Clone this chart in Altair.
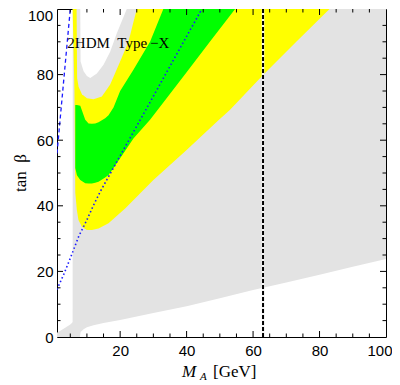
import altair as alt
import pandas as pd

# ---- data ----
gray_x  = [1.0, 3.0, 5.0, 5.5, 5.7, 5.75, 7.9, 8.1, 9.0, 10.0, 12.0, 15.0, 20.0, 30.0, 40.0, 50.0, 60.0, 70.0, 80.0, 90.0, 100.0]
gray_lo = [0, 0, 0, 0, 0, 0, 0, 1.5, 2.4, 3.0, 3.6, 4.3, 5.2, 7.3, 9.4, 11.8, 14.3, 16.6, 19.0, 21.4, 23.8]
gray_hi = [1.3, 2.5, 3.8, 4.3, 4.6, 100, 100, 100, 100, 100, 100, 100, 100, 100, 100, 100, 100, 100, 100, 100, 100]

yellow_x  = [5.7, 6.25, 6.5, 6.97, 7.46, 8.48, 10.0, 11.5, 13.5, 16.5, 21.5, 30.0, 40.0, 49.5, 53.0, 63.0, 73.0, 83.0]
yellow_lo = [100, 75, 44, 38.7, 35.7, 33.6, 32.6, 32.6, 33.1, 34.7, 39.2, 47.9, 57.0, 66.0, 69.2, 79.9, 90.0, 100]

green_x  = [6.5, 7.0, 8.0, 9.5, 10.5, 11.5, 12.5, 13.5, 15.5, 16.5, 18.0, 20.0, 24.0, 29.0, 33.0, 40.0, 47.0, 54.6]
green_lo = [51.5, 49.3, 47.9, 46.9, 46.8, 46.8, 47.0, 47.3, 48.6, 49.4, 51.5, 54.5, 60.5, 66.2, 71.5, 80.7, 90.0, 100]
green_hi = [70.7, 70.7, 70.5, 66.2, 65.1, 65.0, 65.1, 65.5, 66.7, 67.6, 70.0, 75.0, 81.5, 90.0, 100, 100, 100, 100]

igray_x  = [6.9, 7.05, 7.5, 8.5, 10.0, 12.0, 14.5, 17.0, 20.0, 22.5, 25.0]
igray_lo = [100, 79, 76.3, 74.0, 72.8, 72.5, 73.3, 77.0, 84.0, 90.0, 100]

white_x  = [8.0, 8.1, 9.0, 10.0, 11.0, 13.0, 15.0, 17.0, 19.0, 22.0]
white_lo = [100, 84, 81, 79.6, 79.0, 80.3, 83.0, 87.0, 92.6, 100]

dotted_x = [1, 2.95, 5, 7.5, 10, 12, 14, 18, 23.5, 30, 37, 44.6]
dotted_y = [14.5, 18.9, 24, 30.6, 35.7, 40.2, 44.3, 51.6, 61.6, 73.4, 86.2, 100]

dashed_x = [1, 5]
dashed_y = [56, 100]

vline_x = [63]

x_labels = [20, 40, 60, 80]
x_end_label = [100]
y_labels = [0, 20, 40, 60, 80]
y_top_label = [100]
x_major = [20, 40, 60, 80]
x_minor = [5, 10, 15, 25, 30, 35, 45, 50, 55, 65, 70, 75, 85, 90, 95]
y_major = [20, 40, 60, 80]
y_minor = [5, 10, 15, 25, 30, 35, 45, 50, 55, 65, 70, 75, 85, 90, 95]

label_text = "2HDM\u2002Type\u2009\u2212X"
label_pos = [4.1, 88]

# ---- chart ----
W, H = 329, 328
xs = alt.Scale(domain=[1, 100], nice=False, zero=False)
ys = alt.Scale(domain=[0, 100], nice=False, zero=False)

GRAY = "#e3e3e3"
YELLOW = "#ffff00"
GREEN = "#00ff00"
FONT = "Liberation Sans"

AX = alt.Axis(values=x_labels, title=None, ticks=False, tickSize=0, domain=False, grid=False,
              labelFont=FONT, labelFontSize=15, labelColor="black", labelPadding=6,
              labelFlush=False, labelOverlap=False)
AY = alt.Axis(values=y_labels, title=None, ticks=False, tickSize=0, domain=False, grid=False,
              labelFont=FONT, labelFontSize=15, labelColor="black", labelPadding=4,
              labelFlush=False, labelOverlap=False)


def X(f):
    return alt.X(f, type="quantitative", scale=xs, axis=AX)


def Y(f):
    return alt.Y(f, type="quantitative", scale=ys, axis=AY)


gray = alt.Chart(pd.DataFrame({"x": gray_x, "lo": gray_lo, "hi": gray_hi})).mark_area(
    color=GRAY, clip=True, opacity=1).encode(x=X("x"), y=Y("lo"), y2="hi:Q")

yellow = alt.Chart(pd.DataFrame({"x": yellow_x, "lo": yellow_lo})).mark_area(
    color=YELLOW, clip=True, opacity=1).encode(x=X("x"), y=Y("lo"), y2=alt.datum(100))

green = alt.Chart(pd.DataFrame({"x": green_x, "lo": green_lo, "hi": green_hi})).mark_area(
    color=GREEN, clip=True, opacity=1).encode(x=X("x"), y=Y("lo"), y2="hi:Q")

igray = alt.Chart(pd.DataFrame({"x": igray_x, "lo": igray_lo})).mark_area(
    color=GRAY, clip=True, opacity=1).encode(x=X("x"), y=Y("lo"), y2=alt.datum(100))

white = alt.Chart(pd.DataFrame({"x": white_x, "lo": white_lo})).mark_area(
    color="white", clip=True, opacity=1).encode(x=X("x"), y=Y("lo"), y2=alt.datum(100))

dotted = alt.Chart(pd.DataFrame({"x": dotted_x, "y": dotted_y})).mark_line(
    color="#1a1aff", strokeDash=[1.5, 2.5], strokeWidth=1.6, clip=True).encode(x=X("x"), y=Y("y"))

dashed = alt.Chart(pd.DataFrame({"x": dashed_x, "y": dashed_y})).mark_line(
    color="#1a1aff", strokeDash=[4, 3], strokeWidth=1.3, clip=True).encode(x=X("x"), y=Y("y"))

vdf = pd.DataFrame({"x": vline_x})
vunder = alt.Chart(vdf).mark_rule(color="#f4f4f4", strokeWidth=2.6).encode(x=X("x"))
vline = alt.Chart(vdf).mark_rule(color="black", strokeWidth=2, strokeDash=[4, 2]).encode(x=X("x"))

label = alt.Chart(pd.DataFrame({"x": [label_pos[0]], "y": [label_pos[1]], "t": [label_text]})).mark_text(
    font="Liberation Serif", fontSize=15, align="left", baseline="alphabetic", color="black"
).encode(x=X("x"), y=Y("y"), text="t:N")

# end labels drawn separately, nudged so they stay inside the page
top_lab = alt.Chart(pd.DataFrame({"v": y_top_label})).mark_text(
    font=FONT, fontSize=15, align="right", baseline="middle", color="black", dx=-4, dy=7
).encode(x=alt.value(0), y=Y("v"), text=alt.Text("v:Q"))
end_lab = alt.Chart(pd.DataFrame({"v": x_end_label})).mark_text(
    font=FONT, fontSize=15, align="center", baseline="top", color="black", dx=-6, dy=6.5
).encode(x=X("v"), y=alt.value(H), text=alt.Text("v:Q"))


def xticks(vals, length):
    d = pd.DataFrame({"v": vals})
    b = alt.Chart(d).mark_rule(color="black", strokeWidth=1)
    return [b.encode(x=X("v"), y=alt.value(H), y2=alt.value(H - length)),
            b.encode(x=X("v"), y=alt.value(0), y2=alt.value(length))]


def yticks(vals, length):
    d = pd.DataFrame({"v": vals})
    b = alt.Chart(d).mark_rule(color="black", strokeWidth=1)
    return [b.encode(y=Y("v"), x=alt.value(0), x2=alt.value(length)),
            b.encode(y=Y("v"), x=alt.value(W), x2=alt.value(W - length))]


ticks = xticks(x_major, 6) + xticks(x_minor, 3.5) + yticks(y_major, 6) + yticks(y_minor, 3.5)

# axis titles as text annotations
t_m = alt.Chart(pd.DataFrame({"t": ["M"]})).mark_text(
    font="Liberation Serif", fontSize=17, fontStyle="italic", align="left", baseline="alphabetic", color="black"
).encode(x=alt.value(125), y=alt.value(368), text="t:N")
t_a = alt.Chart(pd.DataFrame({"t": ["A"]})).mark_text(
    font="Liberation Serif", fontSize=11, fontStyle="italic", align="left", baseline="alphabetic", color="black"
).encode(x=alt.value(143), y=alt.value(371), text="t:N")
t_gev = alt.Chart(pd.DataFrame({"t": ["[GeV]"]})).mark_text(
    font="Liberation Serif", fontSize=17, align="left", baseline="alphabetic", color="black"
).encode(x=alt.value(156), y=alt.value(368), text="t:N")
t_y = alt.Chart(pd.DataFrame({"t": ["tan\u2002\u03b2"]})).mark_text(
    font="Liberation Serif", fontSize=17, align="center", baseline="middle", angle=270, color="black"
).encode(x=alt.value(-36), y=alt.value(H / 2), text="t:N")

chart = alt.layer(
    gray, yellow, green, igray, white, dotted, dashed, label, vunder, vline, *ticks,
    top_lab, end_lab, t_m, t_a, t_gev, t_y
).properties(
    width=W, height=H,
    autosize=alt.AutoSizeParams(type="none"),
    padding={"left": 49, "top": 1, "right": 6, "bottom": 44},
    background="white",
).configure_view(stroke="black", strokeWidth=1)

chart.save("out.html", embed_options={"renderer": "svg", "actions": False})
